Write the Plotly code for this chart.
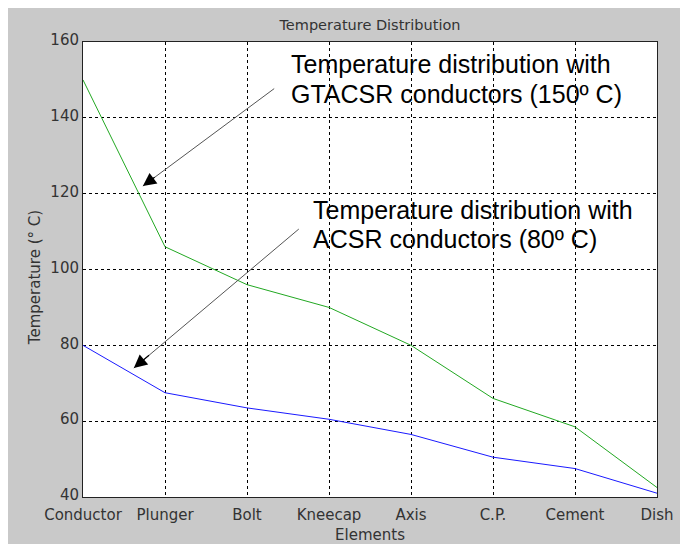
import plotly.graph_objects as go

elements = ["Conductor", "Plunger", "Bolt", "Kneecap", "Axis", "C.P.", "Cement", "Dish"]
gtacsr_temp = [150, 106, 96, 90, 80, 66, 58.5, 42.5]
acsr_temp = [80, 67.5, 63.5, 60.5, 56.5, 50.5, 47.5, 41]
y_ticks = [40, 60, 80, 100, 120, 140, 160]

x_idx = list(range(len(elements)))

fig = go.Figure()
fig.add_trace(go.Scatter(x=x_idx, y=gtacsr_temp, mode="lines",
                         line=dict(color="#22a822", width=1), name="GTACSR"))
fig.add_trace(go.Scatter(x=x_idx, y=acsr_temp, mode="lines",
                         line=dict(color="#1a1aff", width=1), name="ACSR"))

tick_font = dict(family="DejaVu Sans", size=15, color="#333333")
axis_title_font = dict(family="DejaVu Sans", size=15, color="#333333")

fig.update_layout(
    width=680, height=536,
    margin=dict(l=75, r=31, t=34, b=47, autoexpand=False),
    paper_bgcolor="#c9c9c9",
    plot_bgcolor="white",
    showlegend=False,
    title=dict(text="Temperature Distribution", x=0.5, xref="paper",
               y=1 - 17 / 536, yref="container", xanchor="center", yanchor="middle",
               font=dict(family="DejaVu Sans", size=14.5, color="#333333")),
    xaxis=dict(range=[0, 7], tickvals=x_idx, ticktext=elements, automargin=False,
               showgrid=True, gridcolor="black", griddash="dot", gridwidth=1,
               showline=True, linecolor="#222222", linewidth=1, mirror=True,
               zeroline=False, ticks="", tickfont=tick_font, ticklabelstandoff=4,
               title=dict(text="Elements", font=axis_title_font, standoff=8)),
    yaxis=dict(range=[40, 160], tickvals=y_ticks, automargin=False,
               showgrid=True, gridcolor="black", griddash="dot", gridwidth=1,
               showline=True, linecolor="#222222", linewidth=1, mirror=True,
               zeroline=False, ticks="", tickfont=tick_font, ticklabelshift=-2),
)

# y-axis title placed as rotated text (slightly below the axis centre, as in the original)
fig.add_annotation(text="Temperature (° C)", x=-0.0836, y=0.481, xref="paper", yref="paper",
                   textangle=-90, showarrow=False, xanchor="center", yanchor="middle",
                   font=axis_title_font)

ann_font = dict(family="Liberation Sans, Arial", size=25, color="black")
labels = [
    ("Temperature distribution with", 0.361, 0.951),
    ("GTACSR conductors (150º C)", 0.361, 0.886),
    ("Temperature distribution with", 0.399, 0.631),
    ("ACSR conductors (80º C)", 0.399, 0.566),
]
for text, x, y in labels:
    fig.add_annotation(text=text, x=x, y=y, xref="paper", yref="paper", borderpad=0,
                       xanchor="left", yanchor="middle", showarrow=False, font=ann_font)

# arrows: (tail x, tail y) -> (head x, head y) in data coordinates
arrows = [
    (2.35, 148.0, 0.73, 122.0),
    (2.65, 111.0, 0.62, 74.0),
]
for tx, ty, hx, hy in arrows:
    # grey shaft
    fig.add_annotation(x=hx, y=hy, ax=tx, ay=ty, xref="x", yref="y", axref="x", ayref="y",
                       showarrow=True, arrowhead=0, arrowwidth=1,
                       arrowcolor="#555555", text="")
    # black head
    fig.add_annotation(x=hx, y=hy, ax=hx + 0.1 * (tx - hx), ay=hy + 0.1 * (ty - hy),
                       xref="x", yref="y", axref="x", ayref="y",
                       showarrow=True, arrowhead=2, arrowsize=2.2, arrowwidth=1.2,
                       arrowcolor="black", text="")

fig.write_html("out.html")
